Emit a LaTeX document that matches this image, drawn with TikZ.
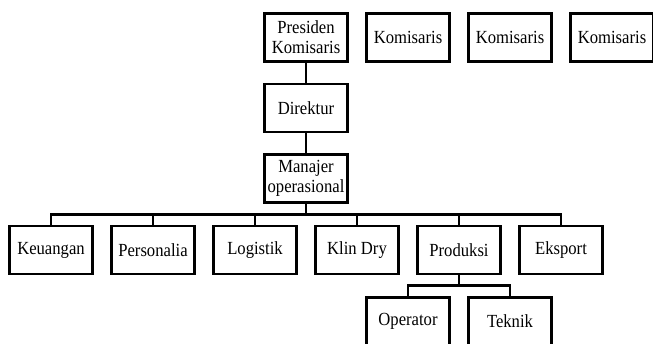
\documentclass[tikz,border=0pt]{standalone}
\usepackage{fontspec}
\setmainfont{Liberation Serif}[FakeStretch=0.9]
\usepackage{tikz}

\tikzset{jabatan/.style={draw,line width=2.5pt,minimum width=83pt,minimum height=48pt,inner sep=1pt,align=center,font=\fontsize{18.5}{20}\selectfont}}

\begin{document}
\begin{tikzpicture}[x=1pt,y=-1pt,line width=2.5pt]
\useasboundingbox (0,0) rectangle (653,343);
\node [jabatan] (pk) at (306,37.5) {Presiden\\Komisaris};
\node [jabatan] (k1) at (408,37.5) {Komisaris};
\node [jabatan] (k2) at (510,37.5) {Komisaris};
\node [jabatan] (k3) at (612,37.5) {Komisaris};
\node [jabatan] (dir) at (306,108) {Direktur};
\node [jabatan] (mo) at (306,178.5) {Manajer\\operasional};
\node [jabatan] (keu) at (51,250) {Keuangan};
\node [jabatan] (per) at (153,250) {Personalia};
\node [jabatan] (log) at (255,250) {Logistik};
\node [jabatan] (klin) at (357,250) {Klin Dry};
\node [jabatan] (prod) at (459,250) {Produksi};
\node [jabatan] (eks) at (561,250) {Eksport};
\node [jabatan] (op) at (408,321.5) {Operator};
\node [jabatan] (tek) at (510,321.5) {Teknik};
\draw (pk) -- (dir);
\draw (dir) -- (mo);
\foreach \n in {keu,per,log,klin,prod,eks}
  \draw (mo.south) -- ++(0,10.5) -| (\n.north);
\foreach \n in {op,tek}
  \draw (prod.south) -- ++(0,10) -| (\n.north);
\end{tikzpicture}
\end{document}
